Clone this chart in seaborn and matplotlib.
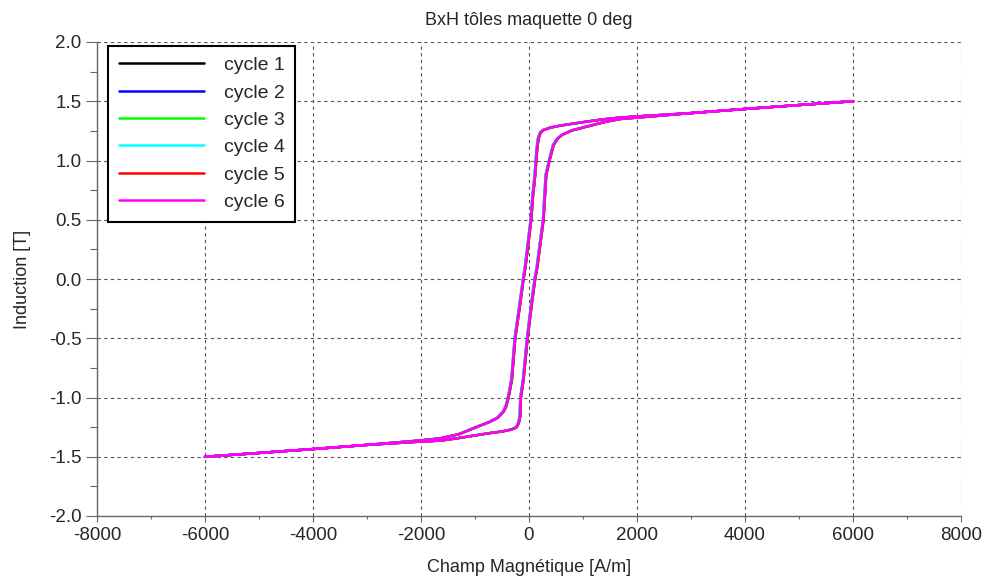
import numpy as np
import pandas as pd
import seaborn as sns
import matplotlib.pyplot as plt
from matplotlib.ticker import MultipleLocator

# descending branch (from +H saturation to -H saturation)
h_desc = [6000, 5000, 4000, 3000, 2000, 1685, 1350, 1068, 800, 574, 400, 265, 210, 173,
          150, 130, 111, 70, 37, -31, -70, -105, -180, -259, -321, -383, -430, -476,
          -580, -722, -1031, -1300, -1648, -2000, -3000, -4000, -5000, -6000]
b_desc = [1.50, 1.468, 1.435, 1.40, 1.372, 1.362, 1.346, 1.328, 1.31, 1.294, 1.278, 1.257,
          1.235, 1.187, 1.11, 1.0, 0.878, 0.70, 0.50, 0.245, 0.10, 0.0, -0.25, -0.50,
          -0.85, -1.0, -1.08, -1.12, -1.17, -1.204, -1.26, -1.31, -1.345, -1.362, -1.40,
          -1.435, -1.468, -1.50]

# ascending branch (from -H saturation to +H saturation)
h_asc = [-6000, -5000, -4000, -3000, -2000, -1648, -1339, -1000, -722, -500, -321, -230,
         -190, -167, -154, -105, -31, 49, 110, 150, 191, 265, 315, 376, 451, 520, 605,
         800, 1068, 1400, 1685, 2000, 3000, 4000, 5000, 6000]
b_asc = [-1.50, -1.468, -1.435, -1.40, -1.372, -1.364, -1.345, -1.32, -1.30, -1.287,
         -1.27, -1.25, -1.21, -1.16, -1.0, -0.85, -0.50, -0.205, 0.0, 0.10, 0.245, 0.50,
         0.878, 1.0, 1.13, 1.18, 1.215, 1.255, 1.286, 1.325, 1.35, 1.362, 1.40, 1.435,
         1.468, 1.50]

cycles = ['cycle 1', 'cycle 2', 'cycle 3', 'cycle 4', 'cycle 5', 'cycle 6']
cycle_shift = [6, -8, 4, -6, 3, 0]  # small H offset between cycles [A/m]
colors = ['#000000', '#0000ff', '#00ff00', '#00ffff', '#ff0000', '#ff00ff']

rows = []
for name, dh in zip(cycles, cycle_shift):
    hh = list(h_desc) + list(h_asc)
    bb = list(b_desc) + list(b_asc)
    for i, (h, b) in enumerate(zip(hh, bb)):
        rows.append((name, i, h + dh, b))
df = pd.DataFrame(rows, columns=['cycle', 'i', 'H', 'B'])

sns.set_theme(style='white')
plt.rcParams['font.family'] = ['Liberation Sans', 'DejaVu Sans']
plt.rcParams['axes.unicode_minus'] = False

fig = plt.figure(figsize=(9.85, 5.85), dpi=100)
ax = fig.add_axes([97 / 985, 1 - 516 / 585, 864 / 985, 474 / 585])

sns.lineplot(data=df, x='H', y='B', hue='cycle', units='cycle', estimator=None,
             sort=False, palette=colors, linewidth=1.7, ax=ax)

ax.set_xlim(-8000, 8000)
ax.set_ylim(-2.0, 2.0)
ax.xaxis.set_major_locator(MultipleLocator(2000))
ax.xaxis.set_minor_locator(MultipleLocator(1000))
ax.yaxis.set_major_locator(MultipleLocator(0.5))
ax.yaxis.set_minor_locator(MultipleLocator(0.25))
ax.yaxis.set_major_formatter(plt.FormatStrFormatter('%.1f'))

ax.grid(True, which='major', linestyle=(0, (3, 3)), color='#555555', linewidth=0.8)
for s in ['top', 'right']:
    ax.spines[s].set_visible(False)
for s in ['left', 'bottom']:
    ax.spines[s].set_color('#666666')
    ax.spines[s].set_linewidth(1.0)

ax.tick_params(axis='y', which='major', direction='out', length=8, width=0.8,
               color='#666666', labelsize=13.5, pad=3, left=True)
ax.tick_params(axis='y', which='minor', direction='out', length=5, width=0.8,
               color='#666666', left=True)
ax.tick_params(axis='x', which='major', direction='out', length=4, width=0.8,
               color='#666666', labelsize=13.5, pad=4, bottom=True)
ax.tick_params(axis='x', which='minor', direction='out', length=2.5, width=0.8,
               color='#666666', bottom=True)

ax.set_title('BxH tôles maquette 0 deg', fontsize=13, pad=12)
ax.set_xlabel('Champ Magnétique [A/m]', fontsize=13, labelpad=11)
ax.set_ylabel('Induction [T]', fontsize=13, labelpad=13)

leg = ax.legend(loc='upper left', bbox_to_anchor=(0.0127, 0.9916), borderaxespad=0,
                frameon=True, fancybox=False, fontsize=14, handlelength=4.4,
                handletextpad=1.0, labelspacing=0.5, borderpad=0.55, title=None)
leg.get_frame().set_edgecolor('black')
leg.get_frame().set_linewidth(1.5)
leg.get_frame().set_alpha(1)
for line in leg.get_lines():
    line.set_linewidth(1.8)

fig.savefig('out.png', dpi=100)
